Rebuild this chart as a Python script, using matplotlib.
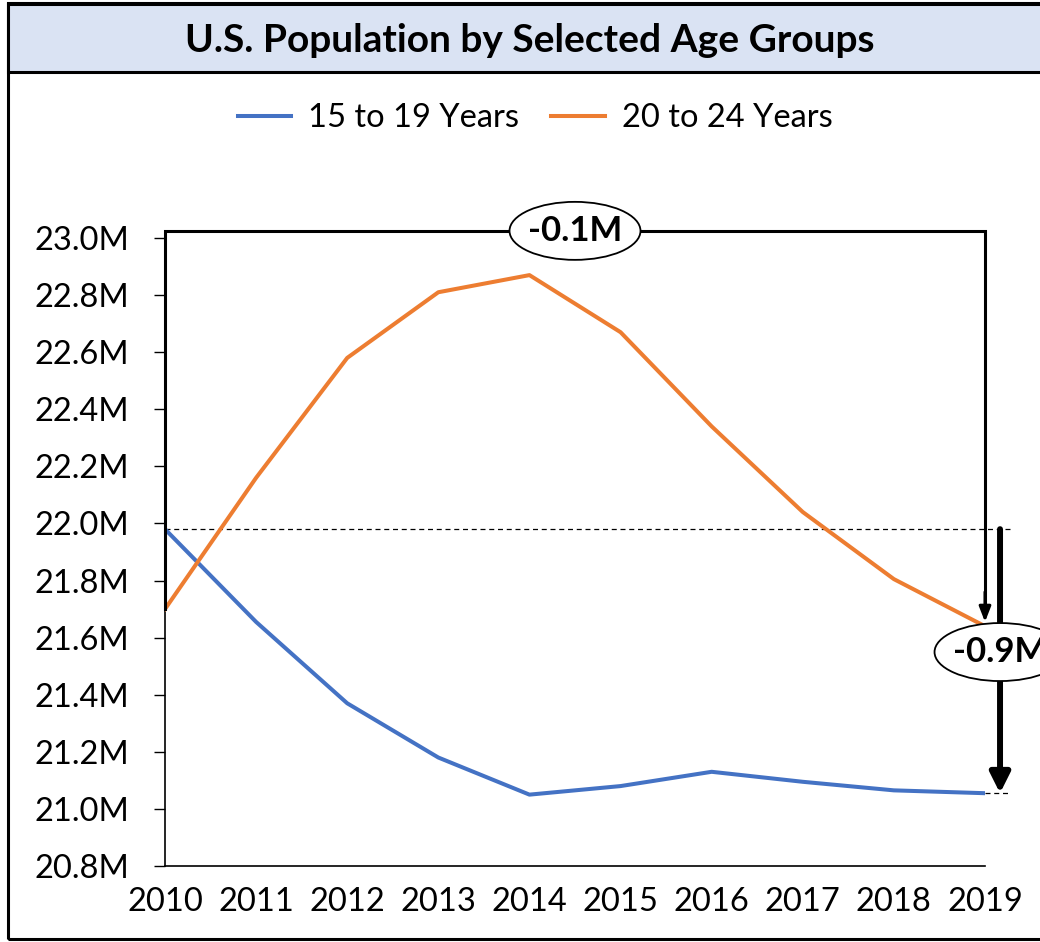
import matplotlib
matplotlib.use("Agg")
import matplotlib.pyplot as plt
import matplotlib.patches as mpatches
import matplotlib.transforms as mtransforms

years = [2010, 2011, 2012, 2013, 2014, 2015, 2016, 2017, 2018, 2019]
pop_15_19 = [21.98, 21.655, 21.37, 21.18, 21.05, 21.08, 21.13, 21.095, 21.065, 21.055]
pop_20_24 = [21.70, 22.16, 22.58, 22.81, 22.87, 22.67, 22.34, 22.04, 21.805, 21.64]
series_names = ["15 to 19 Years", "20 to 24 Years"]
y_ticks = [20.8, 21.0, 21.2, 21.4, 21.6, 21.8, 22.0, 22.2, 22.4, 22.6, 22.8, 23.0]
title = "U.S. Population by Selected Age Groups"

BLUE = "#4472C4"
ORANGE = "#ED7D31"
FONT = ["Lato", "DejaVu Sans"]
plt.rcParams["font.family"] = FONT

W, H = 1040, 942
fig = plt.figure(figsize=(W / 100, H / 100), dpi=100)
fig.patch.set_facecolor("white")

# frame and title band
fig.add_artist(mpatches.Rectangle((8 / W, 3 / H), 1.2, (H - 6) / H, transform=fig.transFigure,
                                  facecolor="none", edgecolor="black", lw=2.2, zorder=0))
fig.add_artist(mpatches.Rectangle((8 / W, (H - 72) / H), 1.2, 68 / H, transform=fig.transFigure,
                                  facecolor="#DAE3F3", edgecolor="black", lw=2.2, zorder=1))
fig.text(530 / W, 1 - 40 / H, title, ha="center", va="center", fontsize=28,
         fontweight="bold", family=FONT)

ax = fig.add_axes([165 / W, 1 - 866 / H, 820 / W, 628 / H])
ax.plot(years, pop_15_19, color=BLUE, lw=2.9, label=series_names[0], zorder=3)
ax.plot(years, pop_20_24, color=ORANGE, lw=2.9, label=series_names[1], zorder=3)

ax.set_xlim(years[0], years[-1])
ax.set_ylim(y_ticks[0], y_ticks[-1])
ax.set_yticks(y_ticks)
ax.set_yticklabels([f"{v:.1f}M" for v in y_ticks])
ax.set_xticks(years)
ax.set_xticklabels([str(y) for y in years])
for s in ["top", "right"]:
    ax.spines[s].set_visible(False)
ax.spines["left"].set_linewidth(1.2)
ax.spines["bottom"].set_linewidth(1.2)
ax.tick_params(axis="y", length=8, width=1.0, pad=18, labelsize=23.5)
ax.tick_params(axis="x", length=0, pad=15, labelsize=23.5)

fig.legend(loc="center", bbox_to_anchor=(535 / W, 1 - 118 / H), ncol=2, frameon=False,
           fontsize=23.5, handlelength=1.65, columnspacing=1.0, handletextpad=0.5)

# annotations
top_y = y_ticks[-1] + 0.025
ax.plot([years[0], years[0], years[-1], years[-1]],
        [pop_20_24[0], top_y, top_y, pop_20_24[-1] + 0.08],
        color="black", lw=2.2, clip_on=False, zorder=4, solid_joinstyle="miter")
ax.annotate("", xy=(years[-1], pop_20_24[-1] + 0.015), xytext=(years[-1], pop_20_24[-1] + 0.12),
            arrowprops=dict(arrowstyle="-|>,head_length=0.9,head_width=0.35", lw=2.2,
                            color="black", shrinkA=0, shrinkB=0),
            annotation_clip=False, zorder=4)

x_ext = years[-1] + 0.27
x_arrow = years[-1] + 0.165
ax.plot([years[0], x_ext], [pop_15_19[0], pop_15_19[0]], color="black", lw=0.9,
        ls=(0, (4, 3)), clip_on=False, zorder=2)
ax.plot([years[-1], x_ext], [pop_15_19[-1], pop_15_19[-1]], color="black", lw=0.9,
        ls=(0, (4, 3)), clip_on=False, zorder=2)
ax.annotate("", xy=(x_arrow, pop_15_19[-1]), xytext=(x_arrow, pop_15_19[0]),
            arrowprops=dict(arrowstyle="-|>,head_length=0.6,head_width=0.3", lw=4.3,
                            mutation_scale=20, color="black", shrinkA=0, shrinkB=0),
            annotation_clip=False, zorder=4)


def bubble(x, y, text):
    trans = fig.dpi_scale_trans + mtransforms.ScaledTranslation(x, y, ax.transData)
    e = mpatches.Ellipse((0, 0), 1.31, 0.58, transform=trans, facecolor="white",
                         edgecolor="black", lw=1.3, clip_on=False, zorder=6)
    ax.add_artist(e)
    ax.text(x, y, text, ha="center", va="center", fontsize=25, fontweight="bold",
            zorder=7, clip_on=False)


d_orange = pop_20_24[-1] - pop_20_24[0]
d_blue = pop_15_19[-1] - pop_15_19[0]
bubble((years[0] + years[-1]) / 2, top_y, f"{d_orange:.1f}M")
bubble(x_arrow, (pop_15_19[0] + pop_15_19[-1]) / 2 + 0.032, f"{d_blue:.1f}M")

fig.savefig("out.png", dpi=100)
